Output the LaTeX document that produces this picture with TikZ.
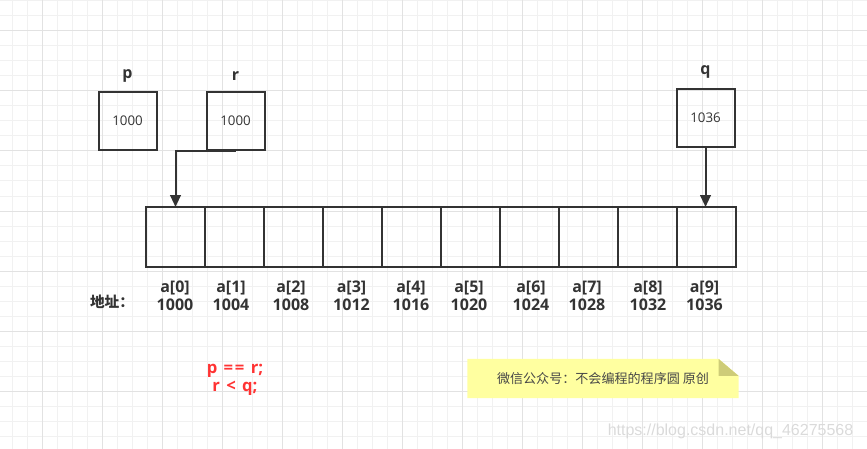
\documentclass[tikz,border=0pt]{standalone}
\usepackage{fontspec}
\setmainfont{Open Sans}
\newfontfamily\cjkfont{Noto Sans CJK SC}
\newfontfamily\markfont{Liberation Sans}
\usetikzlibrary{arrows.meta,positioning}
\definecolor{arrline}{RGB}{51,51,51}
\definecolor{arrgrid}{RGB}{241,241,241}
\definecolor{arrgriddark}{RGB}{226,226,226}
\definecolor{arrred}{RGB}{255,51,51}
\definecolor{arrnote}{RGB}{255,255,160}
\definecolor{arrfold}{RGB}{206,204,120}
\definecolor{arrmark}{RGB}{218,218,218}
\tikzset{
  ptrbox/.style={draw=arrline, line width=1.5pt, minimum width=43.5pt, minimum height=43.5pt, inner sep=0pt, font=\fontsize{10}{12}\selectfont, text=arrline},
  cellbox/.style={draw=arrline, line width=1.5pt, minimum width=44.25pt, minimum height=45pt, inner sep=0pt, outer sep=0pt},
  ptrlab/.style={font=\bfseries\fontsize{12}{14}\selectfont, text=arrline, inner sep=0pt},
  idxlab/.style={font=\bfseries\fontsize{12}{13.7}\selectfont, text=arrline, align=center, inner sep=0pt},
  cmplab/.style={font=\bfseries\fontsize{12.5}{13}\selectfont, text=arrred, align=center, inner sep=0pt},
  notebox/.style={minimum width=203pt, minimum height=29pt, inner sep=0pt, font=\cjkfont\fontsize{9.8}{12}\selectfont, text=arrline!90},
  ptrarr/.style={-{Triangle[length=9pt,width=8pt]}, line width=1.5pt, draw=arrline}
}
\newcommand{\gapsp}{\hspace{0.38em}}

\begin{document}
\begin{tikzpicture}[x=0.75pt, y=-0.75pt]
  \useasboundingbox (0,0) rectangle (867,449);
  % background grid
  \foreach \gx in {12.7,27.7,...,867} \draw[arrgrid, line width=0.75pt] (\gx,0) -- (\gx,449);
  \foreach \gy in {1,16,...,449} \draw[arrgrid, line width=0.75pt] (0,\gy) -- (867,\gy);
  \foreach \gx in {42.7,102.7,...,867} \draw[arrgriddark, line width=0.75pt] (\gx,0) -- (\gx,449);
  \foreach \gy in {31,91,...,449} \draw[arrgriddark, line width=0.75pt] (0,\gy) -- (867,\gy);

  % pointers
  \node[ptrbox] (pbox) at (127.5,121) {1000};
  \node[ptrbox] (rbox) at (235.5,121) {1000};
  \node[ptrbox] (qbox) at (705.5,118) {1036};
  \node[ptrlab] (plab) at (127.5,76) {p};
  \node[ptrlab] (rlab) at (235.5,76) {r};
  \node[ptrlab] (qlab) at (705.5,72) {q};

  % array cells
  \foreach \i in {0,...,9}
    \node[cellbox] (c\i) at ({175.5+59*\i},237) {};

  \draw[ptrarr] (rbox.south) -| (c0.north);
  \draw[ptrarr] (qbox.south) -- (qbox.south |- c9.north);

  % index and address labels
  \foreach \i/\lx/\addr in {0/175/1000,1/231/1004,2/291/1008,3/351.5/1012,4/411/1016,
                             5/469/1020,6/531/1024,7/587/1028,8/648/1032,9/704.5/1036}
    \node[idxlab] (l\i) at (\lx,296) {a[\i]\\\addr};
  \node[font=\cjkfont\bfseries\fontsize{11}{12}\selectfont, text=arrline] (addrlab) at (112,302) {地址：};

  \node[cmplab] (cmp) at (235,380) {p\gapsp=\hspace{0.1em}=\gapsp r;\\r\gapsp<\gapsp q;};

  % note
  \node[notebox] (note) at (603,378.5) {微信公众号：不会编程的程序圆 原创};
  \fill[arrnote] (note.south west) |- ([xshift=-15pt]note.north east)
    -- ([yshift=-12.75pt]note.north east) |- cycle;
  \fill[arrfold] ([xshift=-15pt]note.north east) -- ([xshift=-15pt,yshift=-12.75pt]note.north east)
    -- ([yshift=-12.75pt]note.north east) -- cycle;
  \node[notebox] at (note) {微信公众号：不会编程的程序圆 原创};

  \node[font=\markfont\fontsize{12}{14}\selectfont, text=arrmark, anchor=east] (mark) at (858,431) {https://blog.csdn.net/qq\_46275568};
\end{tikzpicture}
\end{document}
